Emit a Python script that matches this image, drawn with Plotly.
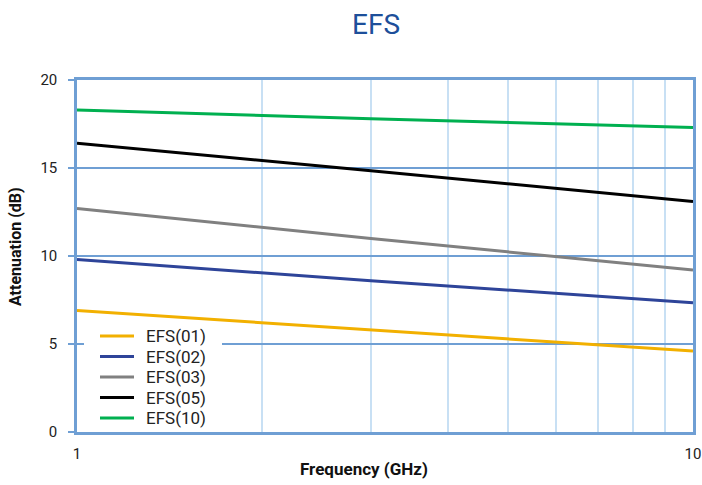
import plotly.graph_objects as go

freq = [1, 3, 10]
efs01 = [6.9, 5.8, 4.6]
efs02 = [9.8, 8.6, 7.35]
efs03 = [12.7, 11.0, 9.2]
efs05 = [16.4, 14.85, 13.1]
efs10 = [18.3, 17.8, 17.3]

names = ["EFS(01)", "EFS(02)", "EFS(03)", "EFS(05)", "EFS(10)"]
series = [efs01, efs02, efs03, efs05, efs10]
colors = ["#f2b000", "#2e4499", "#808080", "#000000", "#00b050"]

xtickvals = [1, 2, 3, 4, 5, 6, 7, 8, 9, 10]
xticktext = ["1", "", "", "", "", "", "", "", "", "10"]
ytickvals = [0, 5, 10, 15, 20]

W, H = 702, 485
ML, MR, MT, MB = 77, 9, 80, 53
PW, PH = W - ML - MR, H - MT - MB

fig = go.Figure()
for n, s, c in zip(names, series, colors):
    fig.add_trace(go.Scatter(x=freq, y=s, name=n, mode="lines", showlegend=False,
                             line=dict(color=c, width=3)))

def px(xp):
    return (xp - ML) / PW

def py(yp):
    return (H - MB - yp) / PH

# manual legend (to match compact row spacing of the reference)
shapes = [dict(type="rect", xref="paper", yref="paper",
               x0=px(84), x1=px(222), y0=py(428), y1=py(325),
               fillcolor="white", line=dict(width=0), layer="above")]
annotations = []
row0, step = 336, 20.5
for i, (n, c) in enumerate(zip(names, colors)):
    yc = row0 + i * step
    shapes.append(dict(type="line", xref="paper", yref="paper",
                       x0=px(100), x1=px(134), y0=py(yc), y1=py(yc),
                       line=dict(color=c, width=3), layer="above"))
    annotations.append(dict(text=n, xref="paper", yref="paper", x=px(144), y=py(yc),
                            xanchor="left", yanchor="middle", showarrow=False,
                            font=dict(family="Roboto", size=17, color="#222222")))

# axis titles
annotations.append(dict(text="<b>Frequency (GHz)</b>", xref="paper", yref="paper",
                        x=px(364), y=py(469), xanchor="center", yanchor="middle",
                        showarrow=False, font=dict(family="Roboto", size=17, color="#111111")))
annotations.append(dict(text="<b>Attenuation (dB)</b>", xref="paper", yref="paper",
                        x=px(15), y=py(247), xanchor="center", yanchor="middle",
                        textangle=-90, showarrow=False,
                        font=dict(family="Roboto", size=16, color="#111111")))

axis_blue = "#6f9fd4"
fig.update_layout(
    width=W, height=H,
    margin=dict(l=ML, r=MR, t=MT, b=MB, autoexpand=False),
    paper_bgcolor="white", plot_bgcolor="white",
    font=dict(family="Roboto", size=15, color="#222222"),
    title=dict(text="EFS", x=376 / W, xanchor="center", y=1 - 24 / H, yanchor="middle",
               font=dict(family="Roboto", size=28, color="#1d4f9a"), automargin=False),
    shapes=shapes, annotations=annotations,
    showlegend=False,
)
fig.update_xaxes(
    type="log", range=[0, 1], automargin=False,
    tickvals=xtickvals, ticktext=xticktext, ticks="",
    ticklabelstandoff=6,
    showgrid=True, gridcolor="#c8e0f4", gridwidth=1.5,
    showline=True, linecolor=axis_blue, linewidth=2.5, mirror=True,
    tickfont=dict(size=15, color="#222222"),
    zeroline=False,
)
fig.update_yaxes(
    range=[0, 20], tickvals=ytickvals, automargin=False,
    showgrid=True, gridcolor=axis_blue, gridwidth=1.5,
    ticks="outside", ticklen=6, tickcolor=axis_blue, tickwidth=1.5,
    ticklabelstandoff=8,
    showline=True, linecolor=axis_blue, linewidth=2.5, mirror=True,
    tickfont=dict(size=15, color="#222222"),
    zeroline=False,
)
fig.write_html("out.html", config={"displayModeBar": False},
               post_script="document.body.style.margin='0';document.body.style.overflow='hidden';")
